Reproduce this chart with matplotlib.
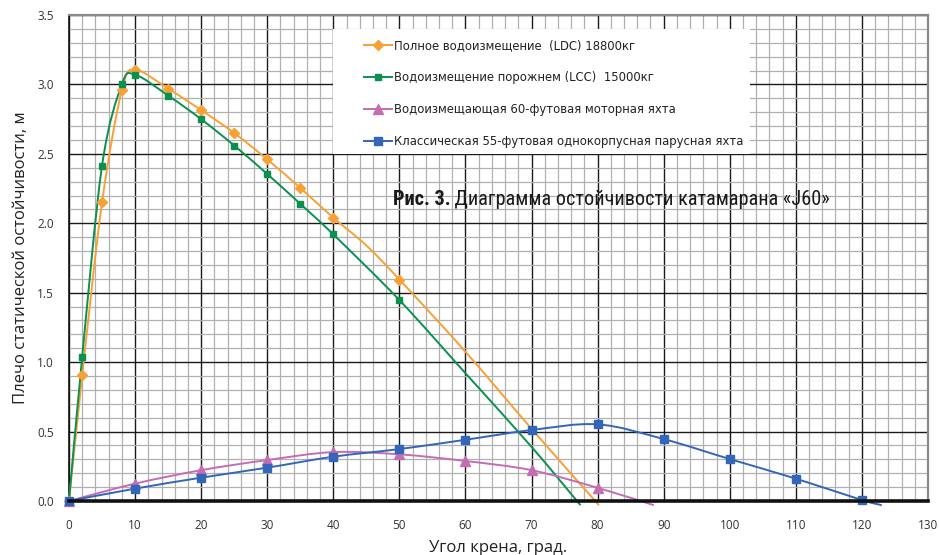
import numpy as np
import matplotlib
matplotlib.use("Agg")
import matplotlib.pyplot as plt
from matplotlib.path import Path
from matplotlib.patches import PathPatch, Rectangle
from matplotlib.lines import Line2D
from matplotlib import font_manager
from matplotlib.ticker import MultipleLocator, FormatStrFormatter

# ---------------- data ----------------
ldc_angle = [0, 2, 5, 8, 10, 15, 20, 25, 30, 35, 40, 45, 50, 60, 70, 80.2]
ldc_value = [0, 0.905, 2.15, 2.96, 3.105, 2.97, 2.815, 2.65, 2.46, 2.255, 2.04, 1.84, 1.595, 1.075, 0.52, -0.03]
ldc_marked = [1, 1, 1, 1, 1, 1, 1, 1, 1, 1, 1, 0, 1, 0, 0, 0]

lcc_angle = [0, 2, 5, 8, 10, 15, 20, 25, 30, 35, 40, 50, 60, 70, 77.4]
lcc_value = [0, 1.04, 2.415, 3.0, 3.07, 2.92, 2.75, 2.56, 2.355, 2.14, 1.92, 1.447, 0.92, 0.39, -0.03]
lcc_marked = [1, 1, 1, 1, 1, 1, 1, 1, 1, 1, 1, 1, 0, 0, 0]

motor_angle = [0, 10, 20, 30, 40, 50, 60, 70, 80, 88.5]
motor_value = [0, 0.125, 0.222, 0.295, 0.352, 0.336, 0.288, 0.222, 0.095, -0.03]
motor_marked = [1, 1, 1, 1, 1, 1, 1, 1, 1, 0]

sail_angle = [0, 10, 20, 30, 40, 50, 60, 70, 80, 90, 100, 110, 120, 123]
sail_value = [0, 0.089, 0.168, 0.24, 0.319, 0.374, 0.441, 0.511, 0.552, 0.446, 0.302, 0.161, 0.007, -0.03]
sail_marked = [1, 1, 1, 1, 1, 1, 1, 1, 1, 1, 1, 1, 1, 0]

labels = [
    "Полное водоизмещение  (LDC) 18800кг",
    "Водоизмещение порожнем (LCC)  15000кг",
    "Водоизмещающая 60-футовая моторная яхта",
    "Классическая 55-футовая однокорпусная парусная яхта",
]
x_ticks = list(range(0, 131, 10))
y_ticks = [0.0, 0.5, 1.0, 1.5, 2.0, 2.5, 3.0, 3.5]
title_bold = "Рис. 3."
title_rest = " Диаграмма остойчивости катамарана «J60»"
xlabel = "Угол крена, град."
ylabel = "Плечо статической остойчивости, м"

# ---------------- styles ----------------
colors = ["#F7A034", "#0A9150", "#C46DB3", "#3366B8"]
markers = ["D", "s", "^", "s"]
msizes = [5.2, 5.0, 6.5, 6.2]

names = {f.name for f in font_manager.fontManager.ttflist}
def pick(cands, default="DejaVu Sans"):
    for c in cands:
        if c in names:
            return c
    return default

axis_font = pick(["Open Sans", "Noto Sans"])
title_font = pick(["Liberation Sans Narrow", "Roboto Condensed", "Open Sans Condensed", "Roboto"])
legend_font = "DejaVu Sans"


def smooth_path(xs, ys):
    pts = np.column_stack([xs, ys]).astype(float)
    n = len(pts)
    verts = [pts[0]]
    codes = [Path.MOVETO]
    for i in range(n - 1):
        p0 = pts[i - 1] if i > 0 else pts[i]
        p1 = pts[i]
        p2 = pts[i + 1]
        p3 = pts[i + 2] if i + 2 < n else pts[i + 1]
        c1 = p1 + (p2 - p0) / 6.0
        c2 = p2 - (p3 - p1) / 6.0
        verts += [c1, c2, p2]
        codes += [Path.CURVE4] * 3
    return Path(verts, codes)


W, H = 939, 555
fig = plt.figure(figsize=(W / 100, H / 100), dpi=100)
ax = fig.add_axes([69 / W, 1 - 501 / H, (928 - 69) / W, (501 - 15) / H])

ax.set_xlim(0, 130)
ax.set_ylim(0, 3.5)
ax.xaxis.set_major_locator(MultipleLocator(10))
ax.xaxis.set_minor_locator(MultipleLocator(2))
ax.yaxis.set_major_locator(MultipleLocator(0.5))
ax.yaxis.set_minor_locator(MultipleLocator(0.1))
ax.set_xticks(x_ticks)
ax.set_yticks(y_ticks)
ax.yaxis.set_major_formatter(FormatStrFormatter("%.1f"))
ax.set_axisbelow(True)
ax.grid(which="minor", color="#b0b0b0", lw=0.9)
ax.grid(which="major", color="#1a1a1a", lw=1.0)
ax.tick_params(which="both", length=0)
ax.tick_params(axis="x", pad=13, labelsize=8.5, labelcolor="#333333")
ax.tick_params(axis="y", pad=11, labelsize=8.5, labelcolor="#333333")
for lab in ax.get_xticklabels() + ax.get_yticklabels():
    lab.set_fontfamily(axis_font)

for s in ["top", "right"]:
    ax.spines[s].set_color("#8a8a8a")
    ax.spines[s].set_linewidth(1.6)
ax.spines["left"].set_color("#111111")
ax.spines["left"].set_linewidth(1.2)
ax.spines["bottom"].set_color("#111111")
ax.spines["bottom"].set_linewidth(2.6)
ax.spines["bottom"].set_zorder(6)

ax.set_xlabel(xlabel, fontsize=12, fontfamily=axis_font, color="#222222", labelpad=6)
ax.set_ylabel(ylabel, fontsize=12, fontfamily=axis_font, color="#222222", labelpad=6)

# white legend area
ax.add_patch(Rectangle((40, 2.5), 63, 0.9, facecolor="white", edgecolor="none", zorder=1))

series = [
    (ldc_angle, ldc_value, ldc_marked),
    (lcc_angle, lcc_value, lcc_marked),
    (motor_angle, motor_value, motor_marked),
    (sail_angle, sail_value, sail_marked),
]
handles = []
for i, (xs, ys, mk) in enumerate(series):
    patch = PathPatch(smooth_path(xs, ys), facecolor="none", edgecolor=colors[i],
                      lw=1.4, zorder=3 + i * 0.1, clip_on=False)
    ax.add_patch(patch)
    mx = [x for x, m in zip(xs, mk) if m]
    my = [y for y, m in zip(ys, mk) if m]
    ax.plot(mx, my, ls="none", marker=markers[i], ms=msizes[i], color=colors[i],
            mec=colors[i], zorder=4 + i * 0.1, clip_on=False)
    handles.append(Line2D([], [], color=colors[i], lw=1.4, marker=markers[i],
                          ms=msizes[i], mec=colors[i]))

leg = ax.legend(handles, labels, loc="upper left",
                bbox_to_anchor=(364 / W, 1 - 39 / H), bbox_transform=fig.transFigure,
                frameon=False, borderpad=0, borderaxespad=0,
                handlelength=2.4, handletextpad=0.2, labelspacing=1.62,
                prop={"family": legend_font, "size": 8.4})
for t in leg.get_texts():
    t.set_color("#222222")
leg.set_zorder(7)

t1 = ax.text(49.0, 2.17, title_bold, fontsize=14.6, fontweight="bold",
             fontfamily=title_font, color="#1a1a1a", va="center", ha="left", zorder=5)
ax.annotate(title_rest, xy=(1, 0), xycoords=t1, va="bottom", ha="left",
            fontsize=14.6, fontfamily=title_font, color="#1a1a1a", zorder=5)

fig.savefig("out.png", dpi=100)
